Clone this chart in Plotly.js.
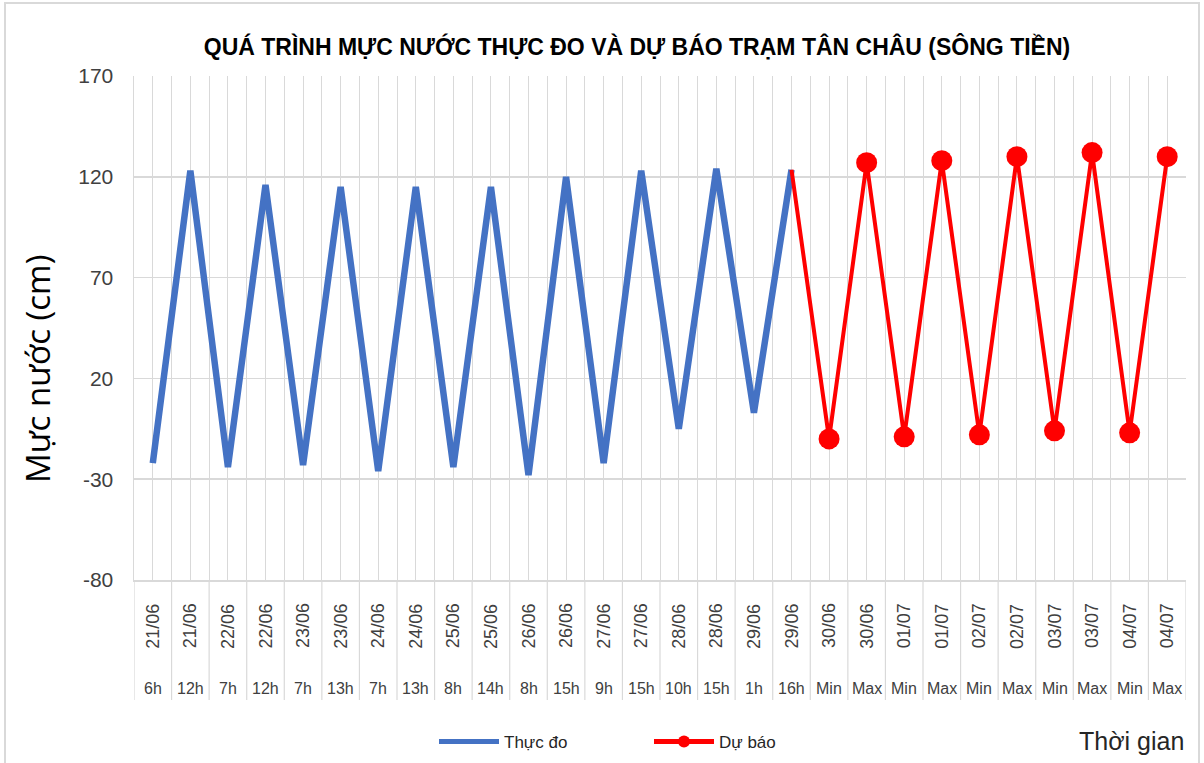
<!DOCTYPE html>
<html>
<head>
<meta charset="utf-8">
<script src="https://cdn.plot.ly/plotly-3.0.1.min.js"></script>
<style>
html,body{margin:0;padding:0;background:#fff;}
#chart{width:1204px;height:763px;}
</style>
</head>
<body>
<div id="chart"></div>
<script>
// ---- data ----
const dates = ['21/06','21/06','22/06','22/06','23/06','23/06','24/06','24/06','25/06','25/06','26/06','26/06','27/06','27/06','28/06','28/06','29/06','29/06','30/06','30/06','01/07','01/07','02/07','02/07','03/07','03/07','04/07','04/07'];
const hours = ['6h','12h','7h','12h','7h','13h','7h','13h','8h','14h','8h','15h','9h','15h','10h','15h','1h','16h','Min','Max','Min','Max','Min','Max','Min','Max','Min','Max'];
const observed = [-22,123,-24,116,-23,115,-26,115,-24,115,-28,120,-22,123,-5,124,3,123.5];
const forecast = [null,null,null,null,null,null,null,null,null,null,null,null,null,null,null,null,null,123.5,-10,127,-9,128,-8,130,-6,132,-7,130];
const yTicks = [-80,-30,20,70,120,170];

const title = 'QUÁ TRÌNH MỰC NƯỚC THỰC ĐO VÀ DỰ BÁO TRẠM TÂN CHÂU (SÔNG TIỀN)';
const yTitle = 'Mực nước (cm)';
const xTitle = 'Thời gian';
const nameObs = 'Thực đo';
const nameFc = 'Dự báo';

// ---- build ----
const W = 1204, H = 763;
const L = 134, R = 1186, T = 76, B = 580;
const pw = R - L, ph = B - T;
const px = (X) => (X - L) / pw;       // container px -> paper x
const py = (Y) => (B - Y) / ph;       // container px -> paper y

const idx = dates.map((_, i) => i);
const font = '"Liberation Sans", Arial, sans-serif';

const traces = [
  {
    x: idx.slice(0, observed.length), y: observed, name: nameObs,
    type: 'scatter', mode: 'lines',
    line: {color: '#4472C4', width: 6.5},
    hoverinfo: 'skip'
  },
  {
    x: idx, y: forecast, name: nameFc,
    type: 'scatter', mode: 'lines+markers',
    line: {color: '#FF0000', width: 4},
    marker: {color: '#FF0000', opacity: 1, line: {width: 0},
      size: forecast.map((v, i) => (i === 17 ? 0 : 21))},
    hoverinfo: 'skip'
  }
];

const shapes = [];
for (let i = 0; i <= dates.length; i++) {
  shapes.push({type: 'line', xref: 'x', yref: 'paper', x0: i - 0.5, x1: i - 0.5, y0: 0, y1: py(700),
    line: {color: '#d9d9d9', width: 1.2}, layer: 'below'});
}
// outer chart-area border
shapes.push({type: 'rect', xref: 'paper', yref: 'paper', x0: px(5), x1: px(1199), y0: py(3), y1: py(775),
  line: {color: '#d9d9d9', width: 2}, fillcolor: 'rgba(0,0,0,0)'});

const annotations = [];
dates.forEach((d, i) => {
  annotations.push({x: i, xref: 'x', y: py(626), yref: 'paper', text: d, showarrow: false,
    textangle: -90, font: {family: font, size: 18, color: '#404040'}, xanchor: 'center', yanchor: 'middle'});
  annotations.push({x: i, xref: 'x', y: py(688), yref: 'paper', text: hours[i], showarrow: false,
    font: {family: font, size: 16, color: '#404040'}, xanchor: 'center', yanchor: 'middle'});
});
annotations.push({x: px(1186), xref: 'paper', y: py(741), yref: 'paper', text: xTitle,
  showarrow: false, xanchor: 'right', yanchor: 'middle', font: {family: font, size: 25, color: '#262626'}});
annotations.push({x: px(38), xref: 'paper', y: py(369), yref: 'paper', text: yTitle, textangle: -90,
  showarrow: false, xanchor: 'center', yanchor: 'middle', font: {family: '"Open Sans", sans-serif', size: 33, color: '#000000'}});

const layout = {
  width: W, height: H,
  margin: {l: L, r: W - R, t: T, b: H - B, autoexpand: false},
  paper_bgcolor: '#ffffff', plot_bgcolor: '#ffffff',
  title: {text: '<b>' + title + '</b>', x: 637 / W, xanchor: 'center', y: 1 - 47 / H, yanchor: 'middle',
    font: {family: font, size: 23, color: '#000000'}},
  showlegend: true,
  legend: {orientation: 'h', xref: 'container', yref: 'container', x: 434 / W, xanchor: 'left',
    y: (H - 742) / H, yanchor: 'middle', itemsizing: 'constant',
    font: {family: font, size: 17, color: '#262626'}, itemwidth: 60, entrywidth: 140, entrywidthmode: 'pixels',
    bgcolor: 'rgba(0,0,0,0)', itemclick: false},
  xaxis: {
    range: [-0.5, dates.length - 0.5], tickmode: 'linear', tick0: -0.5, dtick: 0.5,
    showticklabels: false, ticks: '', showgrid: true, gridcolor: '#d9d9d9', gridwidth: 1,
    zeroline: false, showline: true, linecolor: '#d9d9d9', linewidth: 1.5, fixedrange: true
  },
  yaxis: {
    range: [-80, 170], tickvals: yTicks, ticktext: yTicks.map(String),
    showgrid: true, gridcolor: '#d9d9d9', gridwidth: 1.5, zeroline: false,
    showline: true, linecolor: '#d9d9d9', linewidth: 1.5,
    ticks: '', ticklabelstandoff: 15,
    tickfont: {family: font, size: 21, color: '#404040'},
    fixedrange: true
  },
  shapes: shapes,
  annotations: annotations
};

Plotly.newPlot('chart', traces, layout, {displayModeBar: false, staticPlot: true});
</script>
</body>
</html>
